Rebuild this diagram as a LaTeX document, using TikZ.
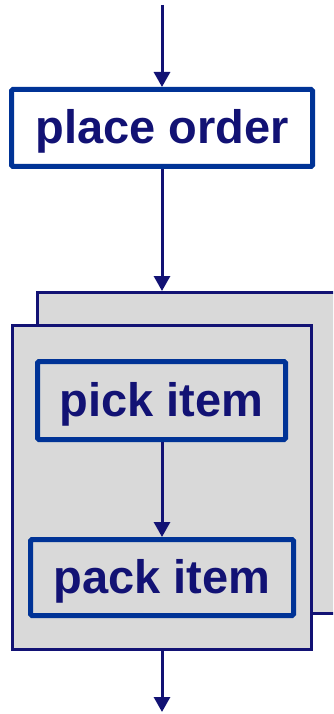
\documentclass[tikz,border=0pt]{standalone}
\usepackage{fontspec}
\setmainfont{Liberation Sans}
\usetikzlibrary{positioning, arrows.meta}
\definecolor{boxblue}{RGB}{0,51,150}
\definecolor{navy}{RGB}{18,18,116}
\definecolor{lightgray}{RGB}{217,217,217}

\begin{document}
\begin{tikzpicture}[x=1pt, y=-1pt,
  step box/.style={rectangle, draw=boxblue, line width=5pt, rounded corners=1.5pt,
              inner sep=0pt, text=navy, text height=42pt, text depth=10pt,
              font=\fontsize{47}{56}\selectfont\bfseries},
  stack/.style={rectangle, draw=navy, line width=3pt, fill=lightgray, inner sep=0pt},
  arr/.style={-{Triangle[length=15pt, width=16pt]}, draw=navy, line width=3pt}
]
  \useasboundingbox (0,0) rectangle (333,714);
  \clip (0,0) rectangle (333,714);

  \coordinate (start) at (162,5);
  \coordinate (finish) at (162,712);

  \node[step box, fill=white, minimum width=301pt, minimum height=77pt] (order) at (162,128) {place order};

  % stacked boxes for the repeated part
  \node[stack, minimum width=342.5pt, minimum height=321pt] (back) at (208.75,453) {};
  \node[stack, minimum width=299pt, minimum height=324pt] (front) at (162,487.5) {};

  \node[step box, minimum width=248pt, minimum height=78pt] (pick) at (161.5,400.5) {pick item};
  \node[step box, minimum width=263pt, minimum height=76pt] (pack) at (162,577.5) {pack item};

  \draw[arr] (start) -- (order.north);
  \draw[arr] (order.south) -- (order.south |- back.north);
  \draw[arr] (pick.south -| pack.north) -- (pack.north);
  \draw[arr] (front.south) -- (finish);
\end{tikzpicture}
\end{document}
